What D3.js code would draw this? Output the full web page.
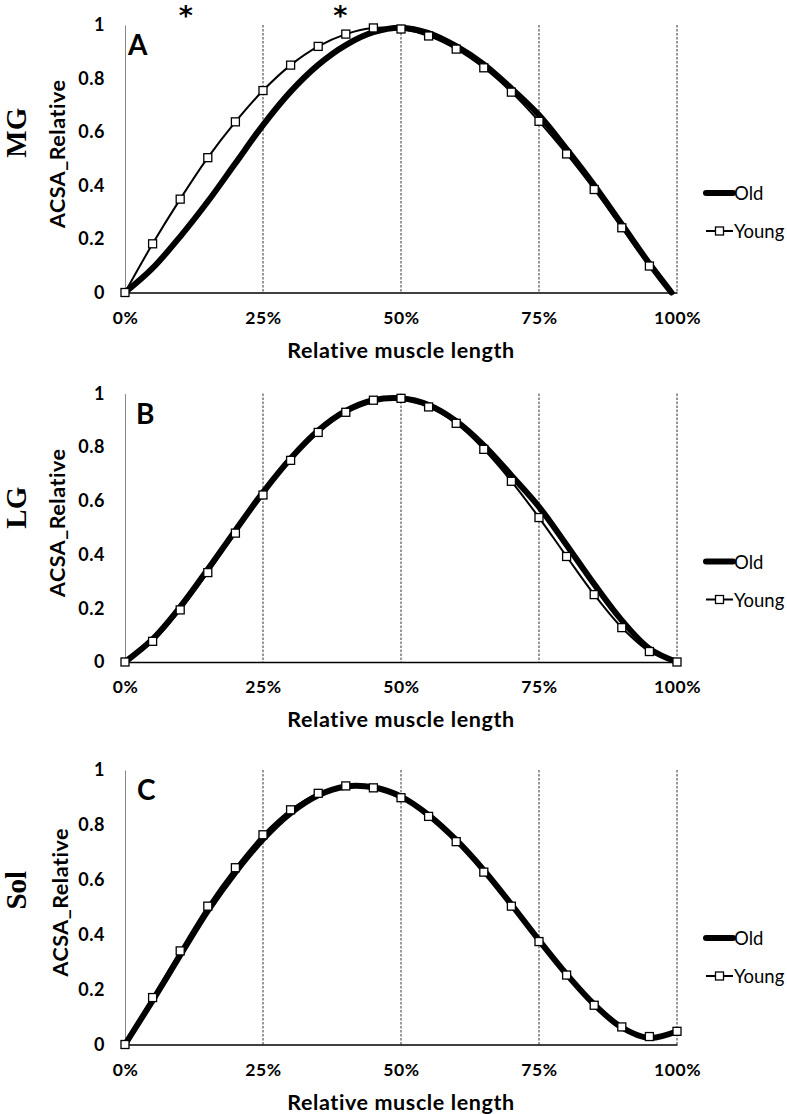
<!DOCTYPE html>
<html>
<head>
<meta charset="utf-8">
<script src="https://cdn.jsdelivr.net/npm/d3@7"></script>
<style>
  html, body { margin: 0; padding: 0; background: #fff; }
  svg { display: block; }
  text { font-family: Lato, "Open Sans", sans-serif; font-weight: bold; fill: #000; }
</style>
</head>
<body>
<svg id="chart" width="787" height="1114"></svg>
<script>
// ---------- data ----------
const muscleLabels = ["MG", "LG", "Sol"];
const panelLetters = ["A", "B", "C"];
const seriesNames = ["Old", "Young"];
const xTickValues = [0, 0.25, 0.5, 0.75, 1];
const yTickValues = [0, 0.2, 0.4, 0.6, 0.8, 1];
const gridValues = [0.25, 0.5, 0.75, 1];

// relative muscle length positions (fraction of length)
const lengthSteps = [0, 0.05, 0.10, 0.15, 0.20, 0.25, 0.30, 0.35, 0.40, 0.45, 0.50,
                     0.55, 0.60, 0.65, 0.70, 0.75, 0.80, 0.85, 0.90, 0.95, 1.00];
// MG curves reach zero just before 100%
const lengthStepsMG = [0, 0.05, 0.10, 0.15, 0.20, 0.25, 0.30, 0.35, 0.40, 0.45, 0.50,
                       0.55, 0.60, 0.65, 0.70, 0.75, 0.80, 0.85, 0.90, 0.95, 0.99];

const oldMG   = [0, 0.091, 0.209, 0.340, 0.483, 0.626, 0.751, 0.851, 0.925, 0.973, 0.990,
                 0.970, 0.921, 0.853, 0.763, 0.663, 0.536, 0.401, 0.255, 0.108, 0];
const youngMG = [0, 0.182, 0.349, 0.504, 0.638, 0.755, 0.850, 0.920, 0.966, 0.989, 0.985,
                 0.959, 0.910, 0.840, 0.749, 0.640, 0.518, 0.385, 0.242, 0.099, 0];
const youngMGMarkers = 20; // last MG point has no marker

const oldLG   = [0, 0.085, 0.205, 0.345, 0.490, 0.632, 0.758, 0.862, 0.935, 0.975, 0.982,
                 0.957, 0.897, 0.807, 0.695, 0.578, 0.436, 0.290, 0.155, 0.050, 0];
const youngLG = [0, 0.077, 0.194, 0.333, 0.480, 0.622, 0.751, 0.855, 0.930, 0.975, 0.982,
                 0.950, 0.889, 0.792, 0.673, 0.538, 0.393, 0.251, 0.128, 0.039, 0];

const oldSol   = [0, 0.160, 0.325, 0.487, 0.627, 0.748, 0.843, 0.908, 0.940, 0.937, 0.903,
                  0.836, 0.745, 0.635, 0.510, 0.380, 0.256, 0.146, 0.062, 0.024, 0.048];
const youngSol = [0, 0.171, 0.341, 0.504, 0.644, 0.764, 0.855, 0.915, 0.942, 0.935, 0.899,
                  0.831, 0.739, 0.628, 0.504, 0.375, 0.253, 0.143, 0.064, 0.029, 0.048];

// significance markers on panel A (x position in relative length)
const starPositions = [0.11, 0.39];

// ---------- drawing ----------
const svg = d3.select("#chart");
const plotLeft = 125, plotRight = 677;

const panels = [
  { top: 25,  bottom: 292.5, xs: lengthStepsMG, old: oldMG,  young: youngMG,  markers: youngMGMarkers, letterX: 128 },
  { top: 393.5, bottom: 662, xs: lengthSteps,   old: oldLG,  young: youngLG,  markers: 21, letterX: 136 },
  { top: 770, bottom: 1044.5, xs: lengthSteps,  old: oldSol, young: youngSol, markers: 21, letterX: 137 }
];

const x = d3.scaleLinear().domain([0, 1]).range([plotLeft, plotRight]);

panels.forEach((p, i) => {
  const y = d3.scaleLinear().domain([0, 1]).range([p.bottom, p.top]);
  const g = svg.append("g");

  // dashed vertical gridlines
  g.selectAll("line.grid").data(gridValues).enter().append("line")
    .attr("x1", d => x(d)).attr("x2", d => x(d))
    .attr("y1", y(1)).attr("y2", y(0))
    .attr("stroke", "#333").attr("stroke-width", 1)
    .attr("stroke-dasharray", "2.5,1.5");

  // y axis
  const yAxis = d3.axisLeft(y).tickValues(yTickValues)
    .tickFormat(d => d === 0 ? "0" : d === 1 ? "1" : d3.format(".1f")(d))
    .tickSize(0).tickPadding(20);
  const ya = g.append("g").attr("transform", `translate(${plotLeft},0)`).call(yAxis);
  ya.select(".domain").attr("stroke", "#888").attr("stroke-width", 1);
  ya.selectAll("text").style("font-size", "18px").style("font-family", "Lato, sans-serif")
    .style("font-weight", "bold").style("letter-spacing", "0.5px").attr("fill", "#000");

  // x axis
  const xAxis = d3.axisBottom(x).tickValues(xTickValues)
    .tickFormat(d3.format(".0%")).tickSize(0).tickPadding(19);
  const xa = g.append("g").attr("transform", `translate(0,${p.bottom})`).call(xAxis);
  xa.select(".domain").attr("stroke", "#000").attr("stroke-width", 1.3);
  xa.selectAll("text").style("font-size", "17.5px").style("font-family", "Lato, sans-serif")
    .style("font-weight", "bold").style("letter-spacing", "0.6px").attr("fill", "#000");

  // axis titles
  g.append("text").attr("x", x(0.5)).attr("y", p.bottom + 65)
    .attr("text-anchor", "middle").style("font-size", "21.5px")
    .style("letter-spacing", "0.6px").text("Relative muscle length");
  const midY = (p.top + p.bottom) / 2;
  g.append("text")
    .attr("transform", `translate(${[57, 57, 60][i]},${midY - 5}) rotate(-90)`)
    .attr("text-anchor", "middle").attr("dominant-baseline", "central")
    .style("font-size", "21.5px").style("letter-spacing", "0.5px").text("ACSA_Relative");

  // row label (muscle)
  g.append("text")
    .attr("transform", `translate(26,${midY - [26, 20, 17][i]}) rotate(-90)`)
    .attr("text-anchor", "middle")
    .style("font-family", "'Liberation Serif', 'DejaVu Serif', serif")
    .style("font-size", "29px").text(muscleLabels[i]);

  // panel letter
  g.append("text").attr("x", p.letterX).attr("y", p.top + 30)
    .style("font-size", "28px").text(panelLetters[i]);

  // lines
  const line = d3.line().curve(d3.curveCatmullRom.alpha(0.5))
    .x(d => x(d[0])).y(d => y(d[1]));
  const oldPts = p.xs.map((v, k) => [v, p.old[k]]);
  const youngPts = p.xs.map((v, k) => [v, p.young[k]]);

  g.append("path").datum(oldPts).attr("d", line)
    .attr("fill", "none").attr("stroke", "#000").attr("stroke-width", 6)
    .attr("stroke-linecap", "round").attr("stroke-linejoin", "round");
  g.append("path").datum(youngPts).attr("d", line)
    .attr("fill", "none").attr("stroke", "#000").attr("stroke-width", 2)
    .attr("stroke-linejoin", "round");

  const ms = 8;
  g.selectAll("rect.mk").data(youngPts.slice(0, p.markers)).enter().append("rect")
    .attr("x", d => x(d[0]) - ms / 2).attr("y", d => y(d[1]) - ms / 2)
    .attr("width", ms).attr("height", ms)
    .attr("fill", "#fff").attr("stroke", "#000").attr("stroke-width", 1.3);

  // legend
  const lx = 706, ly0 = p.top + 168, ly1 = p.top + 206;
  g.append("line").attr("x1", lx).attr("x2", lx + 27).attr("y1", ly0).attr("y2", ly0)
    .attr("stroke", "#000").attr("stroke-width", 6).attr("stroke-linecap", "round");
  g.append("text").attr("x", lx + 28).attr("y", ly0).attr("dominant-baseline", "central")
    .style("font-size", "18.5px").style("font-weight", "normal").text(seriesNames[0]);
  g.append("line").attr("x1", lx).attr("x2", lx + 27).attr("y1", ly1).attr("y2", ly1)
    .attr("stroke", "#000").attr("stroke-width", 2);
  g.append("rect").attr("x", lx + 13.5 - ms / 2).attr("y", ly1 - ms / 2)
    .attr("width", ms).attr("height", ms)
    .attr("fill", "#fff").attr("stroke", "#000").attr("stroke-width", 1.3);
  g.append("text").attr("x", lx + 28).attr("y", ly1).attr("dominant-baseline", "central")
    .style("font-size", "18.5px").style("font-weight", "normal").text(seriesNames[1]);

  if (i === 0) {
    g.selectAll("text.star").data(starPositions).enter().append("text")
      .attr("x", d => x(d)).attr("y", 25).attr("text-anchor", "middle")
      .style("font-family", "'DejaVu Sans', sans-serif")
      .style("font-size", "27px").text("*");
  }
});
</script>
</body>
</html>
